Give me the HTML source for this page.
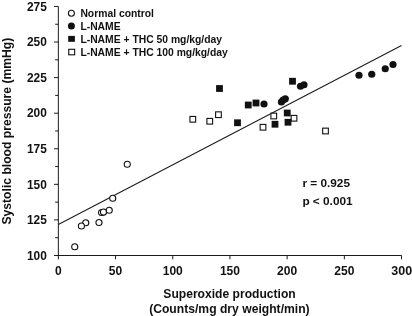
<!DOCTYPE html><html><head><meta charset="utf-8"><title>chart</title><style>html,body{margin:0;padding:0;background:#fff}svg{display:block;will-change:transform}text{font-family:"Liberation Sans",sans-serif;font-weight:bold;fill:#111}</style></head><body>
<svg width="412" height="316" viewBox="0 0 412 316">
<rect width="412" height="316" fill="#fff"/>
<g stroke="#1c1c1c" stroke-width="1" fill="none">
<line x1="58.35" y1="6.45" x2="58.35" y2="259.30"/>
<line x1="54.050000000000004" y1="255.5" x2="401.55" y2="255.5"/>
<line x1="55.15" y1="237.71" x2="58.35" y2="237.71"/>
<line x1="54.05" y1="219.92" x2="58.35" y2="219.92"/>
<line x1="55.15" y1="202.13" x2="58.35" y2="202.13"/>
<line x1="54.05" y1="184.34" x2="58.35" y2="184.34"/>
<line x1="55.15" y1="166.55" x2="58.35" y2="166.55"/>
<line x1="54.05" y1="148.76" x2="58.35" y2="148.76"/>
<line x1="55.15" y1="130.97" x2="58.35" y2="130.97"/>
<line x1="54.05" y1="113.19" x2="58.35" y2="113.19"/>
<line x1="55.15" y1="95.40" x2="58.35" y2="95.40"/>
<line x1="54.05" y1="77.61" x2="58.35" y2="77.61"/>
<line x1="55.15" y1="59.82" x2="58.35" y2="59.82"/>
<line x1="54.05" y1="42.03" x2="58.35" y2="42.03"/>
<line x1="55.15" y1="24.24" x2="58.35" y2="24.24"/>
<line x1="54.05" y1="6.45" x2="58.35" y2="6.45"/>
<line x1="115.55" y1="255.5" x2="115.55" y2="259.30"/>
<line x1="172.75" y1="255.5" x2="172.75" y2="259.30"/>
<line x1="229.95" y1="255.5" x2="229.95" y2="259.30"/>
<line x1="287.15" y1="255.5" x2="287.15" y2="259.30"/>
<line x1="344.35" y1="255.5" x2="344.35" y2="259.30"/>
<line x1="401.55" y1="255.5" x2="401.55" y2="259.30"/>
<line x1="58.35" y1="224.5" x2="401.5" y2="45.5" stroke-width="1.05"/>
</g>
<text x="46.8" y="259.80" font-size="11.9" text-anchor="end">100</text>
<text x="46.8" y="224.22" font-size="11.9" text-anchor="end">125</text>
<text x="46.8" y="188.64" font-size="11.9" text-anchor="end">150</text>
<text x="46.8" y="153.06" font-size="11.9" text-anchor="end">175</text>
<text x="46.8" y="117.49" font-size="11.9" text-anchor="end">200</text>
<text x="46.8" y="81.91" font-size="11.9" text-anchor="end">225</text>
<text x="46.8" y="46.33" font-size="11.9" text-anchor="end">250</text>
<text x="46.8" y="10.75" font-size="11.9" text-anchor="end">275</text>
<text x="58.35" y="275.35" font-size="12.05" text-anchor="middle">0</text>
<text x="115.55" y="275.35" font-size="12.05" text-anchor="middle">50</text>
<text x="172.75" y="275.35" font-size="12.05" text-anchor="middle">100</text>
<text x="229.95" y="275.35" font-size="12.05" text-anchor="middle">150</text>
<text x="287.15" y="275.35" font-size="12.05" text-anchor="middle">200</text>
<text x="344.35" y="275.35" font-size="12.05" text-anchor="middle">250</text>
<text x="391.35" y="275.35" font-size="12.05" textLength="20.9" lengthAdjust="spacingAndGlyphs">300</text>
<text transform="translate(10.55,131.1) rotate(-90)" font-size="12.15" text-anchor="middle">Systolic blood pressure (mmHg)</text>
<text x="295.7" y="298.0" font-size="12.1" text-anchor="end">Superoxide production</text>
<text x="229.4" y="312.7" font-size="12.15" text-anchor="middle">(Counts/mg dry weight/min)</text>
<text x="302.4" y="187" font-size="11.8">r = 0.925</text>
<text x="302.4" y="205" font-size="11.8">p &lt; 0.001</text>
<text x="80.4" y="16.90" font-size="10.35">Normal control</text>
<text x="80.4" y="29.95" font-size="10.35">L-NAME</text>
<text x="80.4" y="43.00" font-size="10.35">L-NAME + THC 50 mg/kg/day</text>
<text x="80.4" y="56.05" font-size="10.35">L-NAME + THC 100 mg/kg/day</text>
<circle cx="71.4" cy="13.25" r="3.0" fill="#fff" stroke="#111" stroke-width="1.1"/>
<circle cx="71.4" cy="25.95" r="3.5" fill="#111"/>
<rect x="68.2" y="35.9" width="6.7" height="5.9" fill="#111"/>
<rect x="68.75" y="49.3" width="5.9" height="5.5" fill="#fff" stroke="#111" stroke-width="1.1"/>
<rect x="189.95" y="116.45" width="5.7" height="5.7" fill="#fff" stroke="#111" stroke-width="1.1"/>
<rect x="206.90" y="118.40" width="5.7" height="5.7" fill="#fff" stroke="#111" stroke-width="1.1"/>
<rect x="215.60" y="111.85" width="5.7" height="5.7" fill="#fff" stroke="#111" stroke-width="1.1"/>
<rect x="270.90" y="113.15" width="5.7" height="5.7" fill="#fff" stroke="#111" stroke-width="1.1"/>
<rect x="260.15" y="124.40" width="5.7" height="5.7" fill="#fff" stroke="#111" stroke-width="1.1"/>
<rect x="291.15" y="115.40" width="5.7" height="5.7" fill="#fff" stroke="#111" stroke-width="1.1"/>
<rect x="322.65" y="128.15" width="5.7" height="5.7" fill="#fff" stroke="#111" stroke-width="1.1"/>
<rect x="216.10" y="85.10" width="6.8" height="6.8" fill="#111"/>
<rect x="244.85" y="101.60" width="6.8" height="6.8" fill="#111"/>
<rect x="252.60" y="99.60" width="6.8" height="6.8" fill="#111"/>
<rect x="234.10" y="119.35" width="6.8" height="6.8" fill="#111"/>
<rect x="271.60" y="120.85" width="6.8" height="6.8" fill="#111"/>
<rect x="289.10" y="77.85" width="6.8" height="6.8" fill="#111"/>
<rect x="283.85" y="109.60" width="6.8" height="6.8" fill="#111"/>
<rect x="284.60" y="118.85" width="6.8" height="6.8" fill="#111"/>
<circle cx="359" cy="75.25" r="3.6" fill="#111"/>
<circle cx="371.75" cy="74.25" r="3.6" fill="#111"/>
<circle cx="385.25" cy="68.75" r="3.6" fill="#111"/>
<circle cx="393" cy="64.5" r="3.6" fill="#111"/>
<circle cx="264" cy="104" r="3.6" fill="#111"/>
<circle cx="281.4" cy="102.0" r="3.6" fill="#111"/>
<circle cx="283.1" cy="100.0" r="3.6" fill="#111"/>
<circle cx="285.3" cy="98.8" r="3.6" fill="#111"/>
<circle cx="300.5" cy="86.25" r="3.6" fill="#111"/>
<circle cx="304" cy="84.75" r="3.6" fill="#111"/>
<circle cx="127.25" cy="164.25" r="3.05" fill="#fff" stroke="#111" stroke-width="1.1"/>
<circle cx="112.75" cy="198.25" r="3.05" fill="#fff" stroke="#111" stroke-width="1.1"/>
<circle cx="109.25" cy="210.25" r="3.05" fill="#fff" stroke="#111" stroke-width="1.1"/>
<circle cx="101.6" cy="212.5" r="3.05" fill="#fff" stroke="#111" stroke-width="1.1"/>
<circle cx="103.5" cy="212.1" r="3.05" fill="#fff" stroke="#111" stroke-width="1.1"/>
<circle cx="99" cy="222.5" r="3.05" fill="#fff" stroke="#111" stroke-width="1.1"/>
<circle cx="85.75" cy="222.75" r="3.05" fill="#fff" stroke="#111" stroke-width="1.1"/>
<circle cx="81.4" cy="226.0" r="3.05" fill="#fff" stroke="#111" stroke-width="1.1"/>
<circle cx="74.75" cy="246.75" r="3.05" fill="#fff" stroke="#111" stroke-width="1.1"/>
</svg></body></html>
